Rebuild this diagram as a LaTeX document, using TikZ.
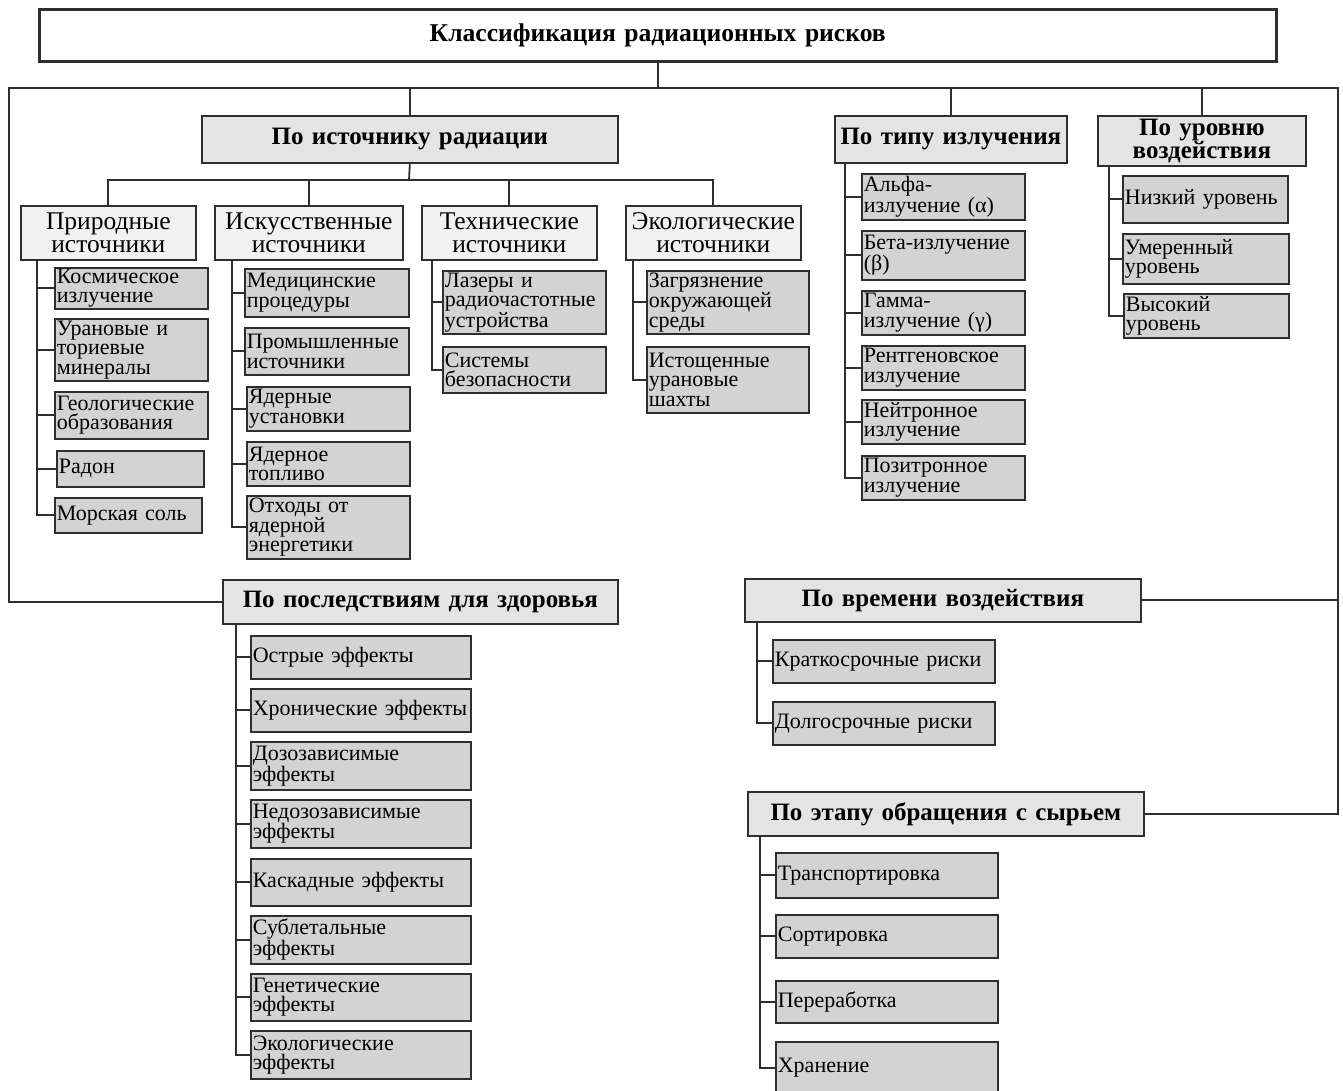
\documentclass[tikz,border=0pt]{standalone}
\usepackage{fontspec}
\setmainfont{Liberation Serif}
\usetikzlibrary{calc}
\definecolor{ln}{HTML}{2E2E2E}
\definecolor{fhead}{HTML}{E4E4E4}
\definecolor{fsub}{HTML}{F1F1F1}
\definecolor{fleaf}{HTML}{D3D3D3}
\tikzset{
  bx/.style={draw=ln, line width=1.7pt, rectangle, inner sep=0pt, anchor=north west},
  conn/.style={draw=ln, line width=1.8pt},
  leaf/.style={fill=fleaf, align=left, font=\fontsize{22}{19.5}\selectfont},
  subb/.style={fill=fsub, align=center, font=\fontsize{25.5}{23.5}\selectfont},
  head/.style={fill=fhead, align=center, font=\bfseries\fontsize{25}{23}\selectfont},
  topb/.style={fill=white, align=center, font=\bfseries\fontsize{25.6}{24}\selectfont, line width=2.5pt},
}
\newcommand\mybox[7]{%
  \pgfmathsetmacro\tw{#5-4}%
  \node[bx,#1,minimum width=#5pt,minimum height=#6pt,text width=\tw pt] (#2) at (#3,#4) {#7};}
\begin{document}
\begin{tikzpicture}[x=1pt,y=-1pt]
\useasboundingbox (0,0) rectangle (1343,1090);
\fill[white] (0,0) rectangle (1343,1090);
% top
\mybox{topb}{top}{38}{8}{1237}{52}{Классификация радиационных рисков}
% headers
\mybox{head}{src}{201}{115}{416}{47}{По источнику радиации}
\mybox{head}{typ}{834}{115}{232}{47}{По типу излучения}
\mybox{head}{lvl}{1097}{115}{208}{50}{По уровню\\воздействия}
\mybox{head}{hl}{222}{579}{395}{44}{По последствиям для здоровья}
\mybox{head}{ht}{744}{578}{396}{43}{По времени воздействия}
\mybox{head}{he}{747}{791}{396}{44}{По этапу обращения с сырьем}
% sub categories
\mybox{subb}{nat}{20}{205}{175}{54}{Природные\\источники}
\mybox{subb}{art}{214}{205}{188}{54}{Искусственные\\источники}
\mybox{subb}{tec}{421}{205}{175}{54}{Технические\\источники}
\mybox{subb}{eco}{625}{205}{175}{54}{Экологические\\источники}
% natural
\mybox{leaf}{n1}{54}{267}{153}{41}{Космическое\\излучение}
\mybox{leaf}{n2}{54}{318}{153}{62}{Урановые и\\ториевые\\минералы}
\mybox{leaf}{n3}{54}{391}{153}{47}{Геологические\\образования}
\mybox{leaf}{n4}{56}{450}{147}{36}{Радон}
\mybox{leaf}{n5}{54}{497}{147}{35}{Морская соль}
% artificial
\mybox{leaf}{a1}{244}{268}{164}{48}{Медицинские\\процедуры}
\mybox{leaf}{a2}{244}{327}{164}{47}{Промышленные\\источники}
\mybox{leaf}{a3}{246}{386}{163}{44}{Ядерные\\установки}
\mybox{leaf}{a4}{246}{441}{163}{44}{Ядерное\\топливо}
\mybox{leaf}{a5}{246}{495}{163}{63}{Отходы от\\ядерной\\энергетики}
% technical
\mybox{leaf}{t1}{442}{270}{163}{63}{Лазеры и\\радиочастотные\\устройства}
\mybox{leaf}{t2}{442}{346}{163}{46}{Системы\\безопасности}
% ecological
\mybox{leaf}{e1}{646}{270}{162}{63}{Загрязнение\\окружающей\\среды}
\mybox{leaf}{e2}{646}{346}{162}{66}{Истощенные\\урановые\\шахты}
% type
\mybox{leaf}{r1}{861}{173}{163}{46}{Альфа-\\излучение (α)}
\mybox{leaf}{r2}{861}{230}{163}{49}{Бета-излучение\\(β)}
\mybox{leaf}{r3}{861}{290}{163}{44}{Гамма-\\излучение (γ)}
\mybox{leaf}{r4}{861}{345}{163}{44}{Рентгеновское\\излучение}
\mybox{leaf}{r5}{861}{399}{163}{44}{Нейтронное\\излучение}
\mybox{leaf}{r6}{861}{455}{163}{44}{Позитронное\\излучение}
% level
\mybox{leaf}{l1}{1122}{175}{165}{47}{Низкий уровень}
\mybox{leaf}{l2}{1122}{233}{166}{50}{Умеренный\\уровень}
\mybox{leaf}{l3}{1123}{293}{165}{44}{Высокий\\уровень}
% health
\mybox{leaf}{h1}{250}{635}{220}{43}{Острые эффекты}
\mybox{leaf}{h2}{250}{688}{220}{43}{Хронические эффекты}
\mybox{leaf}{h3}{250}{741}{220}{48}{Дозозависимые\\эффекты}
\mybox{leaf}{h4}{250}{799}{220}{48}{Недозозависимые\\эффекты}
\mybox{leaf}{h5}{250}{858}{220}{47}{Каскадные эффекты}
\mybox{leaf}{h6}{250}{915}{220}{48}{Сублетальные\\эффекты}
\mybox{leaf}{h7}{250}{973}{220}{47}{Генетические\\эффекты}
\mybox{leaf}{h8}{250}{1030}{220}{48}{Экологические\\эффекты}
% time
\mybox{leaf}{v1}{772}{639}{222}{43}{Краткосрочные риски}
\mybox{leaf}{v2}{772}{701}{222}{43}{Долгосрочные риски}
% stage
\mybox{leaf}{s1}{775}{852}{222}{45}{Транспортировка}
\mybox{leaf}{s2}{775}{914}{222}{43}{Сортировка}
\mybox{leaf}{s3}{775}{980}{222}{42}{Переработка}
\mybox{leaf}{s4}{775}{1041}{222}{52}{Хранение}
% top-level connectors
\coordinate (busL) at (9,88);
\coordinate (busR) at (1338,88);
\draw[conn] (top.south) -- (top.south |- busL);
\draw[conn] (hl.west) -| (busL) -- (busR) |- (he.east);
\draw[conn] (ht.east) -- (ht.east -| busR);
\draw[conn] (src.north) -- (src.north |- busL);
\draw[conn] (typ.north) -- (typ.north |- busL);
\draw[conn] (lvl.north) -- (lvl.north |- busL);
% second level
\coordinate (sb) at (409,180);
\draw[conn] (src.south) -- (sb);
\foreach \n in {nat,art,tec,eco} \draw[conn] (\n.north) |- (sb);
% leaf connectors
\foreach \n in {n1,n2,n3,n4,n5} \draw[conn] ([xshift=17pt]nat.south west) |- (\n.west);
\foreach \n in {a1,a2,a3,a4,a5} \draw[conn] ([xshift=18pt]art.south west) |- (\n.west);
\foreach \n in {t1,t2} \draw[conn] ([xshift=11pt]tec.south west) |- (\n.west);
\foreach \n in {e1,e2} \draw[conn] ([xshift=8pt]eco.south west) |- (\n.west);
\foreach \n in {r1,r2,r3,r4,r5,r6} \draw[conn] ([xshift=11pt]typ.south west) |- (\n.west);
\foreach \n in {l1,l2,l3} \draw[conn] ([xshift=12pt]lvl.south west) |- (\n.west);
\foreach \n in {h1,h2,h3,h4,h5,h6,h7,h8} \draw[conn] ([xshift=14pt]hl.south west) |- (\n.west);
\foreach \n in {v1,v2} \draw[conn] ([xshift=13pt]ht.south west) |- (\n.west);
\foreach \n in {s1,s2,s3,s4} \draw[conn] ([xshift=13pt]he.south west) |- (\n.west);
\end{tikzpicture}
\end{document}
